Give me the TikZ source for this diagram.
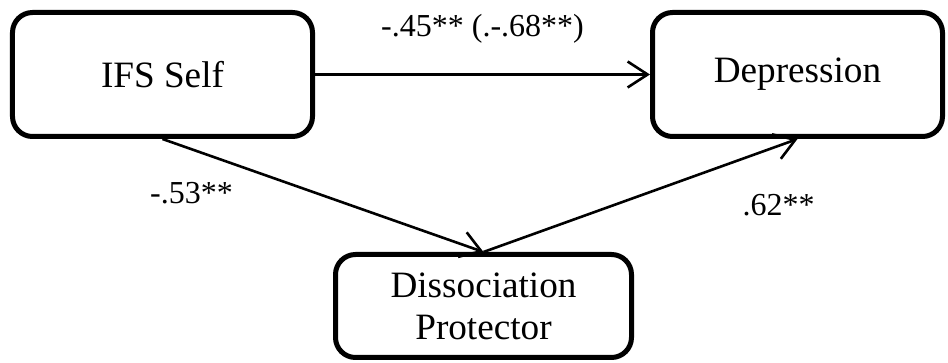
\documentclass[tikz,border=0pt]{standalone}
\usepackage{fontspec}
\setmainfont{Liberation Serif}
\usetikzlibrary{arrows.meta,positioning,calc}

\begin{document}
\begin{tikzpicture}[node distance=10mm,>={Straight Barb[length=10pt,width=13pt]},
    box/.style={draw,line width=2.5pt,rounded corners=10pt,align=center,font=\fontsize{18.6}{21}\selectfont},
    link/.style={->,line width=1.3pt},
    coef/.style={font=\fontsize{16}{19}\selectfont}]
    % Top row
    \node[box,minimum width=150pt,minimum height=62pt] (ifs) {IFS Self};
    \node[box,minimum width=145pt,minimum height=62pt,right=167.5pt of ifs] (dep) {Depression};
    % Mediator
    \node[box,minimum width=148pt,minimum height=51.5pt,below=56.5pt of {$(ifs.south)!.5!(dep.south)$},xshift=1.75pt] (dis) {Dissociation\\Protector};
    % Paths
    \draw[link] (ifs) -- node[coef,yshift=23pt]{-.45** (.-.68**)} (dep);
    \draw[link] (ifs.south) -- node[coef,xshift=-65.75pt,yshift=1.25pt]{-.53**} (dis.north);
    \draw[link] (dis.north) -- node[coef,xshift=69pt,yshift=-5pt]{.62**} (dep.south);
    \useasboundingbox ($(ifs.north west)+(-5pt,5pt)$) rectangle ++(474pt,-181.5pt);
\end{tikzpicture}
\end{document}
